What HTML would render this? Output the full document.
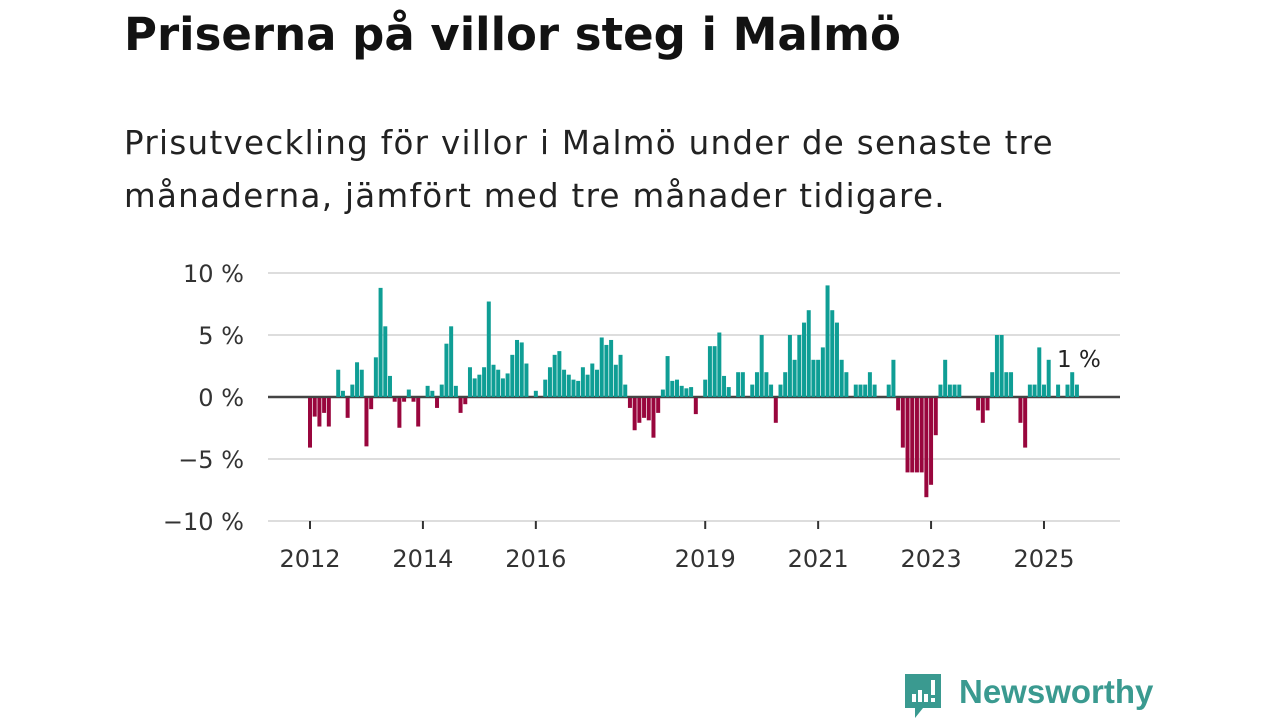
<!DOCTYPE html>
<html><head><meta charset="utf-8">
<style>
html,body{margin:0;padding:0;background:#fff;width:1280px;height:720px;overflow:hidden;font-family:"DejaVu Sans","Liberation Sans",sans-serif;}
h1{position:absolute;left:124px;top:8px;margin:0;font-size:45px;font-weight:bold;color:#121212;letter-spacing:0px;white-space:nowrap;}
p.sub{position:absolute;left:124px;top:117px;margin:0;font-size:32.5px;letter-spacing:1.3px;line-height:53px;color:#222;width:1100px;white-space:nowrap;}
svg{position:absolute;left:0;top:0;}
</style></head><body>
<h1>Priserna på villor steg i Malmö</h1>
<p class="sub">Prisutveckling för villor i Malmö under de senaste tre<br>månaderna, jämfört med tre månader tidigare.</p>
<svg id="chart" width="1280" height="720"></svg>
<div style="position:absolute;left:903px;top:672px;">
<svg width="40" height="48" style="position:absolute;left:0;top:0">
<path d="M2 2h36v34H20l-8 10v-10H2z" fill="#3a9a90"/>
<rect x="9" y="22" width="4" height="8" fill="#fff"/><rect x="15" y="18" width="4" height="12" fill="#fff"/><rect x="21" y="22" width="4" height="8" fill="#fff"/><rect x="28" y="8" width="4" height="15" fill="#fff"/><rect x="28" y="26" width="4" height="4" fill="#fff"/>
</svg>
<span style="position:absolute;left:56px;top:1px;font-family:'Liberation Sans',sans-serif;font-size:33px;font-weight:bold;color:#3a9a90;white-space:nowrap;">Newsworthy</span>
</div>
<script>
const values = [-4,-1.5,-2.3,-1.2,-2.3,null,2.2,0.5,-1.6,1,2.8,2.2,-3.9,-0.9,3.2,8.8,5.7,1.7,-0.3,-2.4,-0.3,0.6,-0.3,-2.3,null,0.9,0.5,-0.8,1,4.3,5.7,0.9,-1.2,-0.5,2.4,1.5,1.8,2.4,7.7,2.6,2.2,1.5,1.9,3.4,4.6,4.4,2.7,null,0.5,null,1.4,2.4,3.4,3.7,2.2,1.8,1.4,1.3,2.4,1.8,2.7,2.2,4.8,4.2,4.6,2.6,3.4,1,-0.8,-2.6,-2,-1.6,-1.8,-3.2,-1.2,0.6,3.3,1.3,1.4,0.9,0.7,0.8,-1.3,null,1.4,4.1,4.1,5.2,1.7,0.8,null,2,2,null,1,2,5,2,1,-2,1,2,5,3,5,6,7,3,3,4,9,7,6,3,2,null,1,1,1,2,1,null,null,1,3,-1,-4,-6,-6,-6,-6,-8,-7,-3,1,3,1,1,1,null,null,null,-1,-2,-1,2,5,5,2,2,null,-2,-4,1,1,4,1,3,null,1,null,1,2,1];
const yTicks = [10,5,0,-5,-10];
const yLabels = ["10 %","5 %","0 %","\u22125 %","\u221210 %"];
const years = [2012,2014,2016,2019,2021,2023,2025];
const lastLabel = "1 %";
const NS="http://www.w3.org/2000/svg";
const svg=document.getElementById('chart');
const x0=310, mw=4.705, y0=397, py=12.4;
const xS=i=>x0+i*mw;
const yS=v=>y0-v*py;
const FF='DejaVu Sans, Liberation Sans, sans-serif';
function el(t,a){const e=document.createElementNS(NS,t);for(const k in a)e.setAttribute(k,a[k]);svg.appendChild(e);return e;}
yTicks.forEach((t,i)=>{
  const g=el('line',{x1:268,x2:1120,y1:yS(t),y2:yS(t),stroke:t===0?'#444':'#ddd','stroke-width':t===0?2.5:2});
  
  
  const tx=el('text',{x:244,y:yS(t)+9,'text-anchor':'end','font-size':24,fill:'#333','font-family':FF});
  tx.textContent=yLabels[i];
  
  
});
values.forEach((v,i)=>{
  if(v===null)return;
  const top=v>0?yS(v):y0, h=Math.abs(v)*py;
  const r=el('rect',{x:xS(i)-2,y:v>0?top:y0+1,width:4,height:h,fill:v>0?'#0f9e95':'#99063d'});
  
  
});
years.forEach(yr=>{
  const i=(yr-2012)*12;
  const t=el('line',{x1:xS(i),x2:xS(i),y1:yS(-10),y2:yS(-10)+8,stroke:'#333','stroke-width':2});
  
  
  const tx=el('text',{x:xS(i),y:567,'text-anchor':'middle','font-size':24,fill:'#333','font-family':FF});
  tx.textContent=yr;
  
  
});
const lbl=el('text',{x:1057,y:367,'font-size':23,fill:'#222','font-family':FF});
lbl.textContent=lastLabel;


</script>
</body></html>
